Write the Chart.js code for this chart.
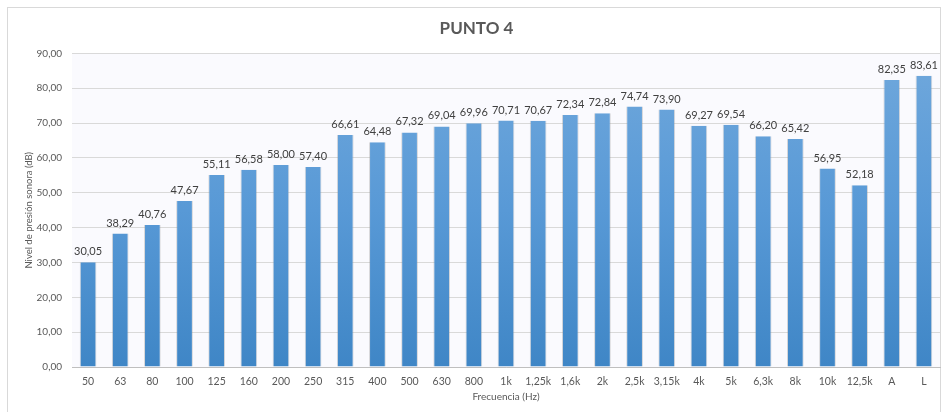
<!DOCTYPE html>
<html>
<head>
<meta charset="utf-8">
<script src="https://cdn.jsdelivr.net/npm/chart.js@4/dist/chart.umd.min.js"></script>
<style>
  html, body { margin: 0; padding: 0; background: #fff; }
  #wrap { width: 942px; height: 412px; position: relative; }
</style>
</head>
<body>
<div id="wrap"><canvas id="punto4"></canvas></div>
<script>
const frecuencias = ['50', '63', '80', '100', '125', '160', '200', '250', '315', '400', '500', '630', '800',
    '1k', '1,25k', '1,6k', '2k', '2,5k', '3,15k', '4k', '5k', '6,3k', '8k', '10k', '12,5k', 'A', 'L'];

const niveles = [30.05, 38.29, 40.76, 47.67, 55.11, 56.58, 58.00, 57.40, 66.61, 64.48, 67.32, 69.04, 69.96,
    70.71, 70.67, 72.34, 72.84, 74.74, 73.90, 69.27, 69.54, 66.20, 65.42, 56.95, 52.18, 82.35, 83.61];

const fuente = 'Lato, "Open Sans", sans-serif';

function formatoComa(v) {
    return Number(v).toFixed(2).replace('.', ',');
}

// fondo blanco, marco exterior y fondo del área de trazado
const fondoPlugin = {
    id: 'fondo',
    beforeDraw(chart) {
        const ctx = chart.ctx;
        const a = chart.chartArea;
        ctx.save();
        ctx.fillStyle = '#ffffff';
        ctx.fillRect(0, 0, chart.width, chart.height);
        ctx.strokeStyle = '#d9d9d9';
        ctx.lineWidth = 1;
        ctx.strokeRect(7.5, 7.5, chart.width - 9, chart.height);
        ctx.fillStyle = '#fafafe';
        ctx.fillRect(a.left, a.top, a.right - a.left, a.bottom - a.top);
        ctx.restore();
    }
};

// etiquetas con el valor encima de cada barra
const etiquetasPlugin = {
    id: 'etiquetas',
    afterDatasetsDraw(chart) {
        const ctx = chart.ctx;
        const meta = chart.getDatasetMeta(0);
        ctx.save();
        ctx.font = '11px ' + fuente;
        ctx.fillStyle = '#404040';
        ctx.textAlign = 'center';
        ctx.textBaseline = 'bottom';
        meta.data.forEach((bar, i) => {
            ctx.fillText(formatoComa(niveles[i]), bar.x, bar.y - 5);
        });
        ctx.restore();
    }
};

function degradado(context) {
    const chart = context.chart;
    const a = chart.chartArea;
    if (!a) return '#5b9bd5';
    const g = chart.ctx.createLinearGradient(0, a.top, 0, a.bottom);
    g.addColorStop(0, '#70a8dc');
    g.addColorStop(0.5, '#5899d6');
    g.addColorStop(1, '#3f86c6');
    return g;
}

new Chart(document.getElementById('punto4'), {
    type: 'bar',
    data: {
        labels: frecuencias,
        datasets: [{
            label: 'Nivel',
            data: niveles,
            backgroundColor: degradado,
            borderColor: 'rgba(150,150,150,0.35)',
            borderWidth: { left: 1, right: 1, top: 0, bottom: 0 },
            barPercentage: 0.52,
            categoryPercentage: 1
        }]
    },
    options: {
        responsive: true,
        maintainAspectRatio: false,
        animation: false,
        layout: { padding: { left: 13, right: 2, top: 10, bottom: 0 } },
        plugins: {
            legend: { display: false },
            tooltip: { enabled: false },
            title: {
                display: true,
                text: 'PUNTO 4',
                color: '#595959',
                font: { family: fuente, size: 17, weight: 'bold' },
                padding: { top: 8, bottom: 15 }
            }
        },
        scales: {
            x: {
                grid: { display: false, drawTicks: false },
                border: { color: '#bfbfbf' },
                ticks: { color: '#595959', font: { family: fuente, size: 10.5 }, padding: 8, maxRotation: 0, autoSkip: false },
                title: { display: true, text: 'Frecuencia (Hz)', color: '#595959', font: { family: fuente, size: 10 }, padding: { top: 0, bottom: 9 } },
                afterFit: scale => { scale.height = 45; }
            },
            y: {
                min: 0,
                max: 90,
                ticks: { stepSize: 10, color: '#595959', font: { family: fuente, size: 10 }, padding: 10, callback: v => formatoComa(v) },
                grid: { color: '#d9d9d9', drawTicks: false },
                border: { display: false },
                title: { display: true, text: 'Nivel de presión sonora (dB)', color: '#595959', font: { family: fuente, size: 9.5 }, padding: { top: 10, bottom: 0 } },
                afterFit: scale => { scale.width = 59; }
            }
        }
    },
    plugins: [fondoPlugin, etiquetasPlugin]
});
</script>
</body>
</html>
